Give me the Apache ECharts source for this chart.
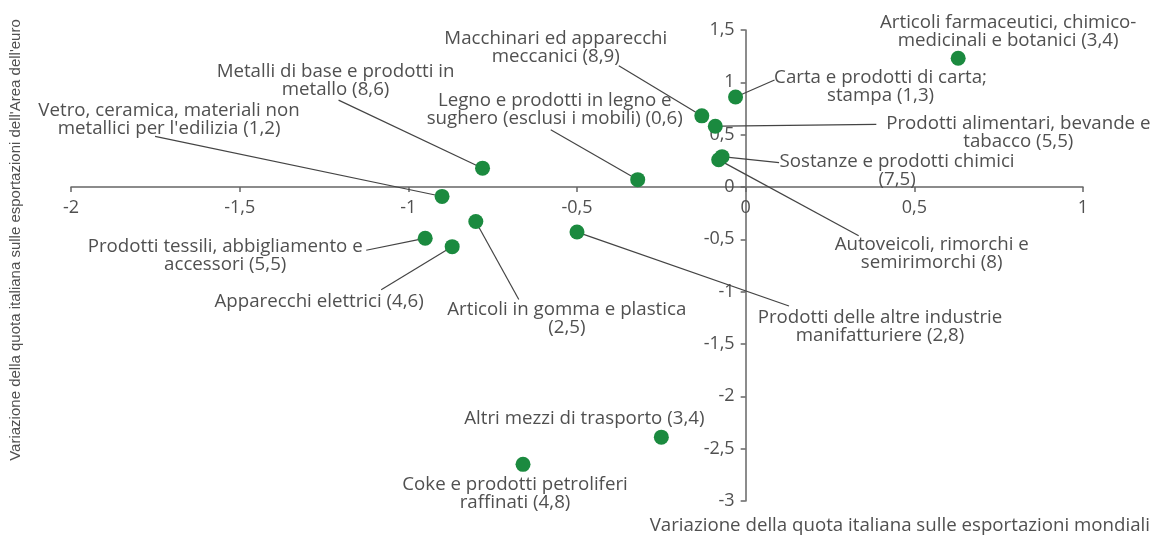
<!DOCTYPE html>
<html>
<head>
<meta charset="utf-8">
<script src="https://cdn.jsdelivr.net/npm/echarts@6/dist/echarts.min.js"></script>
<style>
  html, body { margin: 0; padding: 0; background: #fff; }
  #chart { width: 1152px; height: 535px; }
</style>
</head>
<body>
<div id="chart"></div>
<script>
// settori (testo già spezzato su più righe come nell'originale)
var sectors = [
  "Articoli farmaceutici, chimico-\nmedicinali e botanici",
  "Carta e prodotti di carta;\nstampa",
  "Macchinari ed apparecchi\nmeccanici",
  "Prodotti alimentari, bevande e\ntabacco",
  "Sostanze e prodotti chimici\n",
  "Autoveicoli, rimorchi e\nsemirimorchi",
  "Legno e prodotti in legno e\nsughero (esclusi i mobili)",
  "Metalli di base e prodotti in\nmetallo",
  "Vetro, ceramica, materiali non\nmetallici per l'edilizia",
  "Articoli in gomma e plastica\n",
  "Prodotti tessili, abbigliamento e\naccessori",
  "Apparecchi elettrici",
  "Prodotti delle altre industrie\nmanifatturiere",
  "Altri mezzi di trasporto",
  "Coke e prodotti petroliferi\nraffinati"
];
// peso del settore (numero tra parentesi)
var weights = [3.4, 1.3, 8.9, 5.5, 7.5, 8, 0.6, 8.6, 1.2, 2.5, 5.5, 4.6, 2.8, 3.4, 4.8];
// variazione quota sulle esportazioni mondiali (asse x)
var worldShare = [0.63, -0.03, -0.13, -0.09, -0.07, -0.08, -0.32, -0.78, -0.90, -0.80, -0.95, -0.87, -0.50, -0.25, -0.66];
// variazione quota sulle esportazioni dell'area dell'euro (asse y)
var euroShare = [1.23, 0.86, 0.68, 0.58, 0.29, 0.26, 0.07, 0.18, -0.09, -0.33, -0.49, -0.57, -0.43, -2.39, -2.65];

var xMin = -2, xMax = 1, yMin = -3, yMax = 1.5;

// posizione delle etichette e fine delle linee guida, relative al punto (px)
var labelOffsets = [
  [50, -27], [145, -10], [-146, -68], [303, 6], [175, 14],
  [213, 94], [-83, -70], [-147, -87], [-273, -77], [91, 97],
  [-200, 17], [-133, 55], [303, 95], [-77, -18], [-8, 29]
];
var lineEnds = [
  null, [39, -17], [-83, -50], [161, -2], [57, 6],
  [140, 76], [-87, -50], [-144, -68], [-287, -60], [43, 78],
  [-59, 12], [-71, 43], [212, 74], null, null
];

function fmt(v) {
  return String(v).replace(".", ",");
}

var points = [];
for (var i = 0; i < sectors.length; i++) {
  var name = sectors[i];
  var txt = name.slice(-1) === "\n" ? name + "(" + fmt(weights[i]) + ")" : name + " (" + fmt(weights[i]) + ")";
  points.push({ name: txt, value: [worldShare[i], euroShare[i], i] });
}

var W = 1152, H = 535;
var gridPos = { left: 71, right: 69, top: 30, bottom: 34 };
var gridW = W - gridPos.left - gridPos.right;
var gridH = H - gridPos.top - gridPos.bottom;
// assi che si incrociano nello zero
var xAxisOffset = -(0 - yMin) / (yMax - yMin) * gridH;
var yAxisOffset = -(0 - xMin) / (xMax - xMin) * gridW;

var myChart = echarts.init(document.getElementById("chart"));
var axisColor = "#666";
var textColor = "#505050";

var option = {
  animation: false,
  grid: gridPos,
  xAxis: {
    type: "value",
    min: xMin,
    max: xMax,
    interval: 0.5,
    offset: xAxisOffset,
    splitLine: { show: false },
    axisLine: { onZero: false, lineStyle: { color: axisColor, width: 1.5 } },
    axisTick: { show: true, length: 5, lineStyle: { color: axisColor, width: 1.5 } },
    axisLabel: {
      margin: 12,
      color: textColor,
      fontFamily: "Open Sans",
      fontSize: 18,
      formatter: fmt,
      showMinLabel: true,
      showMaxLabel: true
    }
  },
  yAxis: {
    type: "value",
    min: yMin,
    max: yMax,
    interval: 0.5,
    offset: yAxisOffset,
    splitLine: { show: false },
    axisLine: { show: true, onZero: false, lineStyle: { color: axisColor, width: 1.5 } },
    axisTick: { show: true, length: 5, lineStyle: { color: axisColor, width: 1.5 } },
    axisLabel: {
      margin: 11,
      color: textColor,
      fontFamily: "Open Sans",
      fontSize: 18,
      formatter: fmt,
      showMinLabel: true,
      showMaxLabel: true
    }
  },
  graphic: [
    {
      type: "text",
      x: 16,
      y: 240,
      rotation: Math.PI / 2,
      style: {
        text: "Variazione della quota italiana sulle esportazioni dell'Area dell'euro",
        fill: textColor,
        align: "center",
        verticalAlign: "middle",
        font: "15px 'Liberation Sans', Arial, sans-serif"
      }
    },
    {
      type: "text",
      x: 1150,
      y: 526,
      style: {
        text: "Variazione della quota italiana sulle esportazioni mondiali",
        fill: textColor,
        align: "right",
        verticalAlign: "middle",
        font: "18.7px 'Open Sans', sans-serif"
      }
    }
  ],
  series: [
    {
      // linee guida tra punto ed etichetta
      type: "custom",
      silent: true,
      data: points.map(function (p) { return p.value; }),
      renderItem: function (params, api) {
        var e = lineEnds[api.value(2)];
        if (!e) return;
        var p = api.coord([api.value(0), api.value(1)]);
        var len = Math.sqrt(e[0] * e[0] + e[1] * e[1]);
        var r = 7;
        return {
          type: "line",
          shape: {
            x1: p[0] + e[0] * r / len,
            y1: p[1] + e[1] * r / len,
            x2: p[0] + e[0],
            y2: p[1] + e[1]
          },
          style: { stroke: "#444", lineWidth: 1.2 }
        };
      }
    },
    {
      type: "scatter",
      symbolSize: 15,
      itemStyle: { color: "#1b8a3f", opacity: 1 },
      data: points,
      label: {
        show: true,
        position: "inside",
        formatter: "{b}",
        color: textColor,
        fontFamily: "Open Sans",
        fontSize: 18.7,
        lineHeight: 18,
        align: "center"
      },
      emphasis: { disabled: true },
      labelLayout: function (params) {
        var o = labelOffsets[params.dataIndex];
        var cx = params.rect.x + params.rect.width / 2;
        var cy = params.rect.y + params.rect.height / 2;
        return { x: cx + o[0], y: cy + o[1], align: "center", verticalAlign: "middle" };
      }
    }
  ]
};
myChart.setOption(option);
</script>
</body>
</html>
